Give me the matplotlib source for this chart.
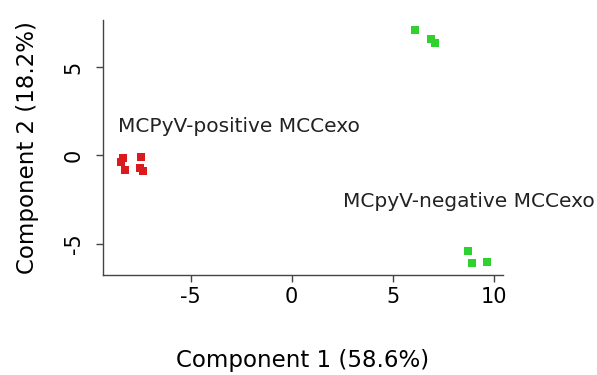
import matplotlib.pyplot as plt

# data
pos_x = [-8.34, -8.44, -8.25, -7.48, -7.51, -7.35]
pos_y = [-0.16, -0.35, -0.82, -0.10, -0.72, -0.86]
neg_x = [6.10, 6.88, 7.09, 8.74, 8.91, 9.65]
neg_y = [7.09, 6.56, 6.37, -5.38, -6.06, -6.00]
xticks = [-5, 0, 5, 10]
yticks = [-5, 0, 5]

plt.rcParams['font.family'] = ['DejaVu Sans']

fig = plt.figure(figsize=(5.97, 3.75), dpi=100)
ax = fig.add_axes([0.1725, 0.2667, 0.67, 0.68])

ax.scatter(pos_x, pos_y, marker='s', s=32, color='#db1a1e', linewidths=0)
ax.scatter(neg_x, neg_y, marker='s', s=32, color='#2fd12f', linewidths=0)

ax.text(-8.6, 1.33, 'MCPyV-positive MCCexo', fontsize=14.5, color='#222222', va='baseline')
ax.text(2.54, -2.91, 'MCpyV-negative MCCexo', fontsize=14.5, color='#222222', va='baseline')

ax.set_xlim(-9.34, 10.46)
ax.set_ylim(-6.75, 7.65)
ax.set_xticks(xticks)
ax.set_xticklabels([str(v) for v in xticks])
ax.set_yticks(yticks)
ax.set_yticklabels([str(v) for v in yticks], rotation=90, va='center')

for s in ['top', 'right']:
    ax.spines[s].set_visible(False)
for s in ['left', 'bottom']:
    ax.spines[s].set_color('#444444')
    ax.spines[s].set_linewidth(1.0)
ax.tick_params(axis='x', length=5, width=1, color='#444444', labelsize=15, pad=4)
ax.tick_params(axis='y', length=5, width=1, color='#444444', labelsize=15, pad=9)

ax.set_xlabel('Component 1 (58.6%)', fontsize=16.5, labelpad=30)
ax.set_ylabel('Component 2 (18.2%)', fontsize=16.5, labelpad=18)

fig.savefig('out.png', dpi=100)
